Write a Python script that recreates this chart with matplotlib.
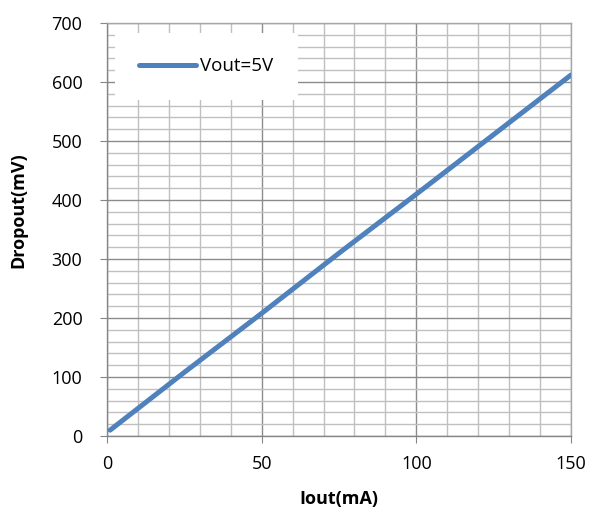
import matplotlib
matplotlib.use('Agg')
import matplotlib.pyplot as plt
from matplotlib.ticker import MultipleLocator

# data
iout = [1, 25, 50, 75, 100, 125, 150]
dropout = [10, 108, 208, 310, 410, 511, 612]

x_ticks = [0, 50, 100, 150]
y_ticks = [0, 100, 200, 300, 400, 500, 600, 700]

plt.rcParams['font.family'] = ['Open Sans', 'DejaVu Sans']

fig = plt.figure(figsize=(5.92, 5.13), dpi=100)
ax = fig.add_axes([0.1807, 0.150, 0.7838, 0.805])

ax.plot(iout, dropout, color='#4F81BD', lw=3.6, label='Vout=5V', solid_capstyle='round', zorder=3)

ax.set_xlim(0, 150)
ax.set_ylim(0, 700)
ax.set_xticks(x_ticks)
ax.set_yticks(y_ticks)
ax.xaxis.set_minor_locator(MultipleLocator(10))
ax.yaxis.set_minor_locator(MultipleLocator(20))

ax.grid(which='minor', color='#C0C0C0', lw=1.0)
ax.grid(which='major', color='#8C8C8C', lw=1.0)
ax.set_axisbelow(True)

for s in ax.spines.values():
    s.set_color('#A6A6A6')
    s.set_linewidth(1.0)
ax.spines['left'].set_color('#868686')
ax.spines['bottom'].set_color('#868686')

ax.tick_params(which='major', direction='out', length=4.7, color='#868686', labelsize=13)
ax.tick_params(which='minor', length=0)
ax.tick_params(axis='y', pad=13)
ax.tick_params(axis='x', pad=9)

ax.set_xlabel('Iout(mA)', fontsize=13, fontweight='bold', labelpad=12)
ax.set_ylabel('Dropout(mV)', fontsize=13, fontweight='bold')
ax.yaxis.set_label_coords(-0.172, 0.547)

leg = ax.legend(loc='upper left', bbox_to_anchor=(0.0172, 0.976), frameon=True, fancybox=False,
                edgecolor='none', facecolor='white', framealpha=1.0, fontsize=13.5,
                handlelength=3.0, borderpad=1.3, borderaxespad=0, handletextpad=0.25)
leg.get_frame().set_linewidth(0)

fig.savefig('out.png', dpi=100)
